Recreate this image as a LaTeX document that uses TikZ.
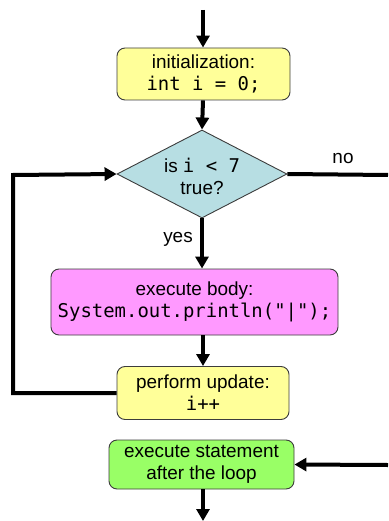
\documentclass[tikz,border=0pt]{standalone}
\usepackage{fontspec}
\setmainfont{Liberation Sans}
\setmonofont{DejaVu Sans Mono}
\usetikzlibrary{shapes.geometric,arrows.meta}
\definecolor{boxyellow}{RGB}{255,255,153}
\definecolor{boxblue}{RGB}{183,222,227}
\definecolor{boxpink}{RGB}{255,153,255}
\definecolor{boxgreen}{RGB}{153,255,102}
\definecolor{edgegray}{RGB}{60,60,60}
\tikzset{
  flowbox/.style={draw=edgegray, line width=0.9bp, rounded corners=8bp, inner sep=0pt,
    align=center, font=\fontsize{19}{22}\selectfont},
  flowline/.style={line width=4bp},
  flowarrow/.style={line width=4bp, -{Triangle[length=12bp,width=13bp]}},
  lbl/.style={font=\fontsize{19}{22}\selectfont, inner sep=0pt}
}
\begin{document}
\begin{tikzpicture}[x=1bp,y=-1bp]
\useasboundingbox (0,0) rectangle (388,521);
\node[flowbox, fill=boxyellow, minimum width=173bp, minimum height=52bp] (init) at (203.5,74) {initialization:\\\texttt{int i = 0;}};
\node[draw=edgegray, line width=0.9bp, fill=boxblue, shape=diamond, aspect=1.93, minimum width=170bp, minimum height=88bp, inner sep=0pt] (cond) at (202,174) {};
\node[lbl, align=center, font=\fontsize{19}{22}\selectfont] (condtext) at (202,176) {is \texttt{i < 7}\\true?};
\node[flowbox, fill=boxpink, minimum width=287bp, minimum height=66bp] (body) at (194.5,302) {execute body:\\\texttt{System.out.println("|");}};
\node[flowbox, fill=boxyellow, minimum width=172bp, minimum height=53bp] (upd) at (203,393) {perform update:\\\texttt{i++}};
\node[flowbox, fill=boxgreen, minimum width=185bp, minimum height=49bp] (after) at (201.5,464.5) {execute statement\\after the loop};
\coordinate (topin) at (203,10);
\coordinate (noend) at (388,175);
\coordinate (loopa) at (13,393);
\coordinate (loopb) at (13,175);
\coordinate (exitin) at (388,465);
\coordinate (botout) at (203,521);
\draw[flowarrow] (topin) -- (init.north -| topin);
\draw[flowarrow] (init.south -| topin) -- (cond.north);
\draw[flowarrow] (cond.south) -- (body.north -| cond.south);
\draw[flowarrow] (body.south -| upd.north) -- (upd.north);
\draw[flowarrow] (upd.west) -- (loopa) -- (loopb) -- (cond.west);
\draw[flowline] (cond.east) -- (noend);
\draw[flowarrow] (exitin) -- (after.east);
\draw[flowarrow] (after.south -| botout) -- (botout);
\node[lbl] (nolbl) at (343,158) {no};
\node[lbl] (yeslbl) at (178,239) {yes};
\end{tikzpicture}
\end{document}
